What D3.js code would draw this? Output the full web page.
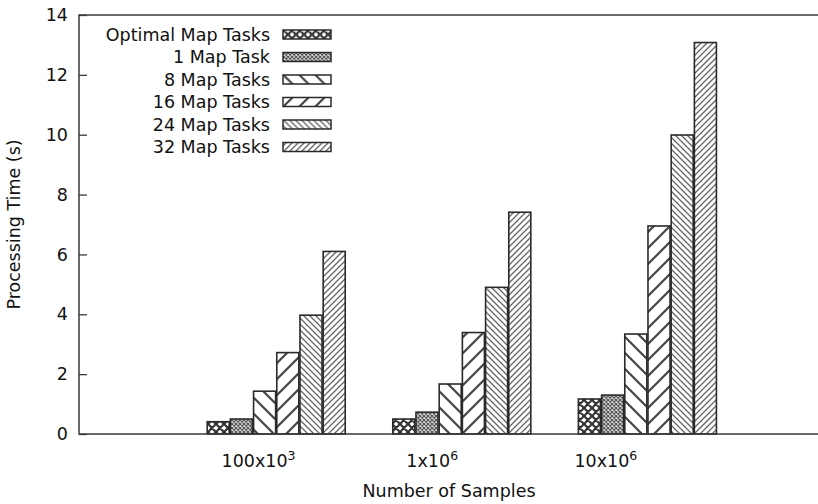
<!DOCTYPE html>
<html>
<head>
<meta charset="utf-8">
<script src="https://cdn.jsdelivr.net/npm/d3@7"></script>
<style>
  html, body { margin: 0; padding: 0; background: #fff; }
  svg { display: block; font-family: "DejaVu Sans", sans-serif; }
</style>
</head>
<body>
<svg id="chart" width="818" height="504"></svg>
<script>
// ---- data ----
const categories = ["100x10|3", "1x10|6", "10x10|6"];
const seriesNames = ["Optimal Map Tasks", "1 Map Task", "8 Map Tasks", "16 Map Tasks", "24 Map Tasks", "32 Map Tasks"];
const optimalTasks = [0.41, 0.50, 1.17];
const oneTask      = [0.50, 0.73, 1.30];
const eightTasks   = [1.43, 1.67, 3.34];
const sixteenTasks = [2.72, 3.39, 6.95];
const twentyFourTasks = [3.97, 4.90, 9.99];
const thirtyTwoTasks  = [6.10, 7.41, 13.08];
const yTicks = [0, 2, 4, 6, 8, 10, 12, 14];
const seriesValues = [optimalTasks, oneTask, eightTasks, sixteenTasks, twentyFourTasks, thirtyTwoTasks];
const patternIds = ["pCrossHeavy", "pCrossFine", "pBackBig", "pFwdBig", "pBackFine", "pFwdFine"];

const svg = d3.select("#chart");
const ink = "#3a3a3a";
const fs = 17.5;

// ---- patterns ----
const defs = svg.append("defs");
function pat(id, size, draw) {
  const p = defs.append("pattern").attr("id", id).attr("patternUnits", "userSpaceOnUse")
    .attr("width", size).attr("height", size);
  p.append("rect").attr("width", size).attr("height", size).attr("fill", "#fff");
  draw(p, size);
}
pat("pCrossHeavy", 8, (p, s) => {
  p.append("path").attr("d", `M0,0L${s},${s}M${s},0L0,${s}M-1,${s-1}L1,${s+1}M${s-1},-1L${s+1},1M-1,1L1,-1M${s-1},${s+1}L${s+1},${s-1}`)
    .attr("stroke", "#333").attr("stroke-width", 2.2);
});
pat("pCrossFine", 4, (p, s) => {
  p.append("rect").attr("width", s).attr("height", s).attr("fill", "#d8d8d8");
  p.append("path").attr("d", `M0,0L${s},${s}M${s},0L0,${s}`)
    .attr("stroke", "#555").attr("stroke-width", 1.1);
});
pat("pBackBig", 16, (p, s) => {
  p.append("path").attr("d", `M0,0L${s},${s}M${-s/2},${s/2}L${s/2},${s*1.5}M${s/2},${-s/2}L${s*1.5},${s/2}`)
    .attr("stroke", "#444").attr("stroke-width", 2.2);
});
pat("pFwdBig", 16, (p, s) => {
  p.append("path").attr("d", `M0,${s}L${s},0M${-s/2},${s/2}L${s/2},${-s/2}M${s/2},${s*1.5}L${s*1.5},${s/2}`)
    .attr("stroke", "#444").attr("stroke-width", 2.2);
});
pat("pBackFine", 6, (p, s) => {
  p.append("path").attr("d", `M0,0L${s},${s}M${-s/2},${s/2}L${s/2},${s*1.5}M${s/2},${-s/2}L${s*1.5},${s/2}`)
    .attr("stroke", "#666").attr("stroke-width", 1.3);
});
pat("pFwdFine", 6, (p, s) => {
  p.append("path").attr("d", `M0,${s}L${s},0M${-s/2},${s/2}L${s/2},${-s/2}M${s/2},${s*1.5}L${s*1.5},${s/2}`)
    .attr("stroke", "#666").attr("stroke-width", 1.3);
});

// ---- scales ----
const plot = { left: 79, top: 15, bottom: 434 };
const unit = 23.2;
const x = d3.scaleLinear().domain([-6, 26]).range([plot.left, plot.left + 32 * unit]);
const y = d3.scaleLinear().domain([0, 14]).range([plot.bottom, plot.top]);
const clusterStride = seriesNames.length + 2;
const barW = unit * 0.95;
const xLabel = d3.scalePoint().domain(categories).range([x(1.74), x(16.71)]);

// ---- bars ----
const bars = [];
categories.forEach((c, i) => {
  seriesValues.forEach((vals, j) => {
    bars.push({ pos: i * clusterStride + j, value: vals[i], pattern: patternIds[j] });
  });
});
svg.append("g").selectAll("rect").data(bars).join("rect")
  .attr("x", d => x(d.pos) - barW / 2)
  .attr("y", d => y(d.value))
  .attr("width", barW)
  .attr("height", d => y(0) - y(d.value))
  .attr("fill", d => `url(#${d.pattern})`)
  .attr("stroke", "#2a2a2a").attr("stroke-width", 1.6);

// ---- frame ----
svg.append("rect").attr("x", x(-6)).attr("y", y(14))
  .attr("width", x(26) - x(-6)).attr("height", y(0) - y(14))
  .attr("fill", "none").attr("stroke", ink).attr("stroke-width", 1.5);

// ---- y axis ----
const yAxis = svg.append("g").attr("transform", `translate(${plot.left},0)`)
  .call(d3.axisLeft(y).tickValues(yTicks).tickSizeInner(-8).tickSizeOuter(0).tickPadding(11));
yAxis.select(".domain").remove();
yAxis.selectAll(".tick line").attr("stroke", ink).attr("stroke-width", 1.3);
yAxis.selectAll(".tick text").attr("font-size", fs).attr("fill", "#111")
  .attr("font-family", "DejaVu Sans");

// ---- x labels ----
const xl = svg.append("g").selectAll("text").data(categories).join("text")
  .attr("x", d => xLabel(d)).attr("y", 467)
  .attr("text-anchor", "middle").attr("font-size", fs).attr("fill", "#111");
xl.each(function(d) {
  const [base, sup] = d.split("|");
  const t = d3.select(this);
  t.append("tspan").text(base);
  t.append("tspan").attr("dy", -7.5).attr("font-size", 12.5).text(sup);
});

// ---- axis titles ----
svg.append("text").attr("x", 449).attr("y", 497).attr("text-anchor", "middle")
  .attr("font-size", fs).attr("fill", "#111").text("Number of Samples");
svg.append("text").attr("transform", `translate(20,${(plot.top + plot.bottom) / 2}) rotate(-90)`)
  .attr("text-anchor", "middle").attr("font-size", fs).attr("fill", "#111").text("Processing Time (s)");

// ---- legend ----
const leg = svg.append("g").selectAll("g").data(seriesNames).join("g")
  .attr("transform", (d, i) => `translate(0,${34.5 + i * 22.5})`);
leg.append("text").attr("x", 270).attr("y", 0).attr("dy", "0.35em")
  .attr("text-anchor", "end").attr("font-size", fs).attr("fill", "#111").text(d => d);
leg.append("rect").attr("x", 283).attr("y", -4.5).attr("width", 48).attr("height", 9)
  .attr("fill", (d, i) => `url(#${patternIds[i]})`)
  .attr("stroke", "#2a2a2a").attr("stroke-width", 1.5);
</script>
</body>
</html>
